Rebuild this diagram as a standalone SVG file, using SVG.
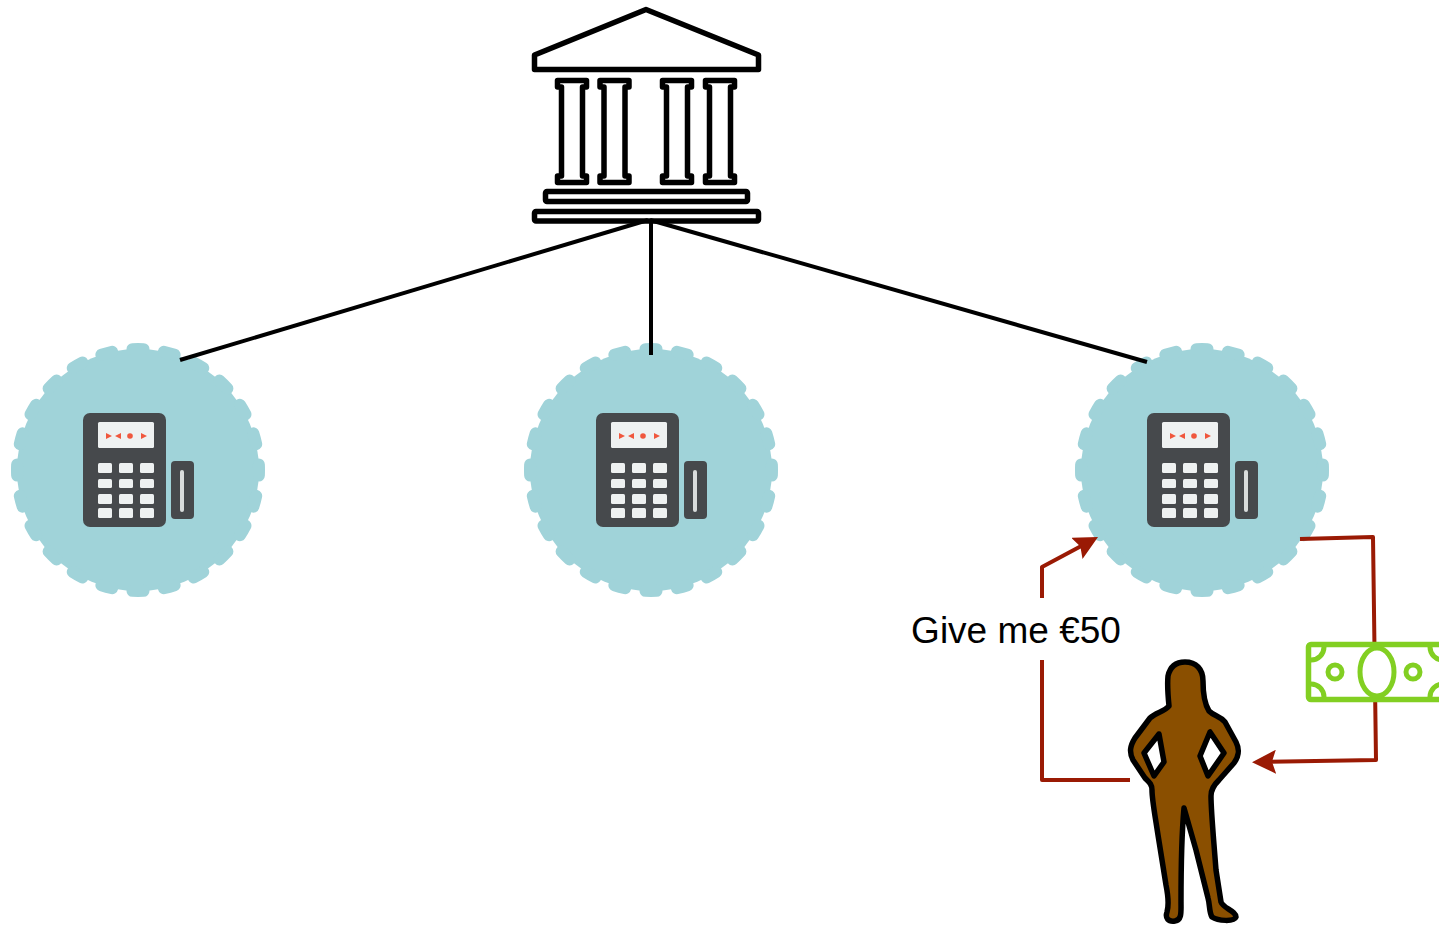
<svg xmlns="http://www.w3.org/2000/svg" width="1439" height="926" viewBox="0 0 1439 926">
  <style>
    .bank{fill:#fff;stroke:#000;stroke-width:5.5;stroke-linejoin:round}
    .link{stroke:#000;stroke-width:4;fill:none}
    .flow{stroke:#9a1a04;stroke-width:4;fill:none;stroke-linejoin:round}
    .label{font-family:"Liberation Sans",Arial,Helvetica,sans-serif;font-size:37px;fill:#000}
    .bill{fill:none;stroke:#82cf22;stroke-width:5}
    .key{fill:#eef1f1}
    .dark{fill:#46494c}
    .seal{fill:#a0d3d9;stroke:#a0d3d9;stroke-width:12;stroke-linecap:round;stroke-dasharray:0.35 0.65;stroke-dashoffset:0.175}
    .body{fill:#8a4f00;stroke:#000;stroke-width:5.5;stroke-linejoin:round}
    .gap{fill:#fff;stroke:#000;stroke-width:5.5;stroke-linejoin:round}
  </style>
  <defs>
    <marker id="arrow" markerUnits="userSpaceOnUse" viewBox="0 0 24 24" markerWidth="24" markerHeight="24" refX="14" refY="12" orient="auto">
      <path d="M0,0 L24,12 L0,24 L4,12 Z" fill="#9a1a04"/>
    </marker>
    <!-- card terminal on a scalloped seal, centred on (0,0) -->
    <g id="terminal-badge">
      <circle class="seal" r="121" pathLength="24"/>
      <rect class="dark" x="-55" y="-57" width="83" height="114" rx="7"/>
      <rect class="key" x="-40" y="-48" width="56" height="26" rx="1.5"/>
      <g fill="#f0573d">
        <path d="M-32,-37 L-26,-34 L-32,-31 Z"/>
        <path d="M-17,-37 L-23,-34 L-17,-31 Z"/>
        <circle cx="-8" cy="-34" r="2.8"/>
        <path d="M3,-37 L9,-34 L3,-31 Z"/>
      </g>
      <g class="key">
        <rect x="-40" y="-7" width="14" height="10" rx="1.5"/>
        <rect x="-19" y="-7" width="14" height="10" rx="1.5"/>
        <rect x="2" y="-7" width="14" height="10" rx="1.5"/>
        <rect x="-40" y="9" width="14" height="9" rx="1.5"/>
        <rect x="-19" y="9" width="14" height="9" rx="1.5"/>
        <rect x="2" y="9" width="14" height="9" rx="1.5"/>
        <rect x="-40" y="24" width="14" height="10" rx="1.5"/>
        <rect x="-19" y="24" width="14" height="10" rx="1.5"/>
        <rect x="2" y="24" width="14" height="10" rx="1.5"/>
        <rect x="-40" y="38" width="14" height="10" rx="1.5"/>
        <rect x="-19" y="38" width="14" height="10" rx="1.5"/>
        <rect x="2" y="38" width="14" height="10" rx="1.5"/>
      </g>
      <rect class="dark" x="33" y="-9" width="23" height="58" rx="4"/>
      <rect x="42" y="0" width="4" height="42" rx="2" fill="#d9dcdc"/>
    </g>
  </defs>

  <rect width="1439" height="926" fill="#fff"/>

  <!-- bank -->
  <g id="bank">
    <path class="bank" d="M646,9.5 L534.5,55 L534.5,69.5 L758.5,69.5 L758.5,55 Z"/>
    <path class="bank" d="M557.5,80.5 H586.5 V87 H582.5 V176 H586.5 V182.5 H557.5 V176 H561.5 V87 H557.5 Z"/>
    <path class="bank" d="M600,80.5 H629 V87 H625 V176 H629 V182.5 H600 V176 H604 V87 H600 Z"/>
    <path class="bank" d="M662.5,80.5 H691.5 V87 H687.5 V176 H691.5 V182.5 H662.5 V176 H666.5 V87 H662.5 Z"/>
    <path class="bank" d="M705.5,80.5 H734.5 V87 H730.5 V176 H734.5 V182.5 H705.5 V176 H709.5 V87 H705.5 Z"/>
    <rect class="bank" x="545.5" y="191.5" width="202" height="10" rx="1.5"/>
    <rect class="bank" x="534.5" y="211.5" width="224" height="9.5" rx="1.5"/>
  </g>

  <!-- terminals -->
  <g id="terminal-left"><use href="#terminal-badge" x="138" y="470"/></g>
  <g id="terminal-middle"><use href="#terminal-badge" x="651" y="470"/></g>
  <g id="terminal-right"><use href="#terminal-badge" x="1202" y="470"/></g>

  <!-- customer -->
  <g id="customer">
    <path class="body"
      d="M1185,662 C1196,662 1203,669 1203,681 C1203,693 1204,703 1209,711 C1214,716 1220,716 1225,722 L1236,742 C1240,750 1239,756 1234,763 L1219,780 C1214,785 1211,789 1211,796 C1211,811 1213,831 1216,870 L1221,902 C1223,908 1236,911 1236,917 C1234,922 1218,921 1212,917 C1209,912 1210,905 1208,898 L1196,850 L1184,808 C1182,830 1181,870 1181,902 C1181,912 1182,920 1175,921 C1168,922 1165,918 1167,912 C1169,905 1168,895 1166,885 L1158,835 C1155,815 1152,800 1152,790 C1152,784 1149,782 1145,778 L1133,760 C1129,752 1130,746 1135,738 L1150,718 C1156,712 1164,712 1169,706 C1168,696 1167,686 1168,676 C1170,667 1176,662 1185,662 Z"/>
    <path class="gap" d="M1159,734 L1144,753 L1154,776 L1164,762 Z"/>
    <path class="gap" d="M1210,732 L1200,756 L1208,776 L1224,753 Z"/>
  </g>

  <!-- connectors -->
  <g id="connectors">
    <path class="link" d="M648,220 L180,360"/>
    <path class="link" d="M651,220 L651,355"/>
    <path class="link" d="M650,220 L1147,362"/>
    <path class="flow" d="M1130,780 L1042,780 L1042,567 L1089.2,541.7" marker-end="url(#arrow)"/>
    <rect x="905" y="598" width="222" height="62" fill="#fff"/>
    <text class="label" x="1016" y="643" text-anchor="middle">Give me €50</text>
    <path class="flow" d="M1300,539 L1373,537 L1376,760 L1262,762" marker-end="url(#arrow)"/>
  </g>

  <!-- banknote -->
  <g id="banknote">
    <rect x="1308.5" y="644.5" width="137" height="55" rx="2.5" fill="#fff" stroke="#82cf22" stroke-width="5.5"/>
    <path class="bill" d="M1311,660 A13,13 0 0 0 1324,647 M1311,684 A13,13 0 0 1 1324,697 M1443,660 A13,13 0 0 1 1430,647 M1443,684 A13,13 0 0 0 1430,697"/>
    <circle class="bill" cx="1335" cy="672" r="7"/>
    <circle class="bill" cx="1413" cy="672" r="7"/>
    <ellipse class="bill" cx="1377" cy="672" rx="17" ry="24"/>
  </g>
</svg>
